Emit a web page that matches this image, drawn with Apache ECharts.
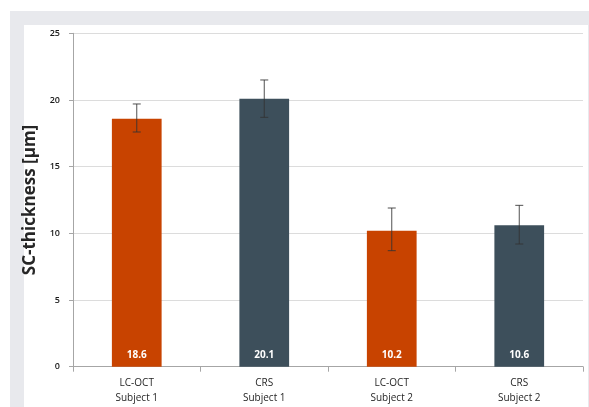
<!DOCTYPE html>
<html>
<head>
<meta charset="utf-8">
<style>
  html, body { margin: 0; padding: 0; background: #ffffff; }
  #chart { width: 589px; height: 407px; }
</style>
<script src="https://cdn.jsdelivr.net/npm/echarts@6/dist/echarts.min.js"></script>
</head>
<body>
<div id="chart"></div>
<script>
// Stratum corneum thickness per method and subject
const categories = ['LC-OCT\nSubject 1', 'CRS\nSubject 1', 'LC-OCT\nSubject 2', 'CRS\nSubject 2'];
const thickness = [18.6, 20.1, 10.2, 10.6];
const errLow = [17.6, 18.7, 8.7, 9.2];
const errHigh = [19.7, 21.5, 11.9, 12.1];
const barColors = ['#c84300', '#3d4f5b', '#c84300', '#3d4f5b'];
const yTicks = [0, 5, 10, 15, 20, 25];

const chart = echarts.init(document.getElementById('chart'), null, { renderer: 'canvas' });

const font = '"Open Sans", "Liberation Sans", sans-serif';

chart.setOption({
  backgroundColor: '#ffffff',
  animation: false,
  graphic: [
    { type: 'rect', z: -10, silent: true, shape: { x: 10, y: 11, width: 579, height: 396 }, style: { fill: '#e8e9ed' } },
    { type: 'rect', z: -9, silent: true, shape: { x: 24, y: 25, width: 564, height: 382 }, style: { fill: '#ffffff' } }
  ],
  grid: { left: 73, right: 6, top: 33.3, bottom: 40.3, containLabel: false },
  xAxis: {
    type: 'category',
    data: categories,
    axisLine: { lineStyle: { color: '#a6a6a6', width: 1 } },
    axisTick: { show: true, length: 5, lineStyle: { color: '#a6a6a6' } },
    axisLabel: {
      color: '#262626', fontFamily: font, fontSize: 10, lineHeight: 15, margin: 9
    }
  },
  yAxis: {
    type: 'value',
    min: yTicks[0],
    max: yTicks[yTicks.length - 1],
    interval: 5,
    name: 'SC-thickness [µm]',
    nameLocation: 'middle',
    nameGap: 22,
    nameTextStyle: { color: '#262626', fontFamily: font, fontSize: 17, fontWeight: 'bold' },
    axisLine: { show: true, lineStyle: { color: '#a6a6a6', width: 1 } },
    axisTick: { show: true, inside: false, length: 4, lineStyle: { color: '#a6a6a6' } },
    axisLabel: { color: '#1a1a1a', fontFamily: font, fontSize: 9, fontWeight: 600, margin: 13 },
    splitLine: { show: true, lineStyle: { color: '#dcdcdc', width: 1 } }
  },
  series: [
    {
      type: 'bar',
      barWidth: '39%',
      data: thickness.map((v, i) => ({ value: v, itemStyle: { color: barColors[i] } })),
      label: {
        show: true,
        position: 'insideBottom',
        distance: 7,
        color: '#ffffff',
        fontFamily: font,
        fontSize: 10,
        fontWeight: 700,
        formatter: p => p.value.toFixed(1)
      },
      z: 2
    },
    {
      type: 'custom',
      z: 3,
      data: errLow.map((lo, i) => [i, lo, errHigh[i]]),
      renderItem: function (params, api) {
        const x = api.value(0);
        const lo = api.coord([x, api.value(1)]);
        const hi = api.coord([x, api.value(2)]);
        const cap = 4;
        const style = { stroke: '#333333', lineWidth: 1, opacity: 0.85 };
        return {
          type: 'group',
          children: [
            { type: 'line', shape: { x1: hi[0], y1: hi[1], x2: lo[0], y2: lo[1] }, style: style },
            { type: 'line', shape: { x1: hi[0] - cap, y1: hi[1], x2: hi[0] + cap, y2: hi[1] }, style: style },
            { type: 'line', shape: { x1: lo[0] - cap, y1: lo[1], x2: lo[0] + cap, y2: lo[1] }, style: style }
          ]
        };
      }
    }
  ]
});
</script>
</body>
</html>
